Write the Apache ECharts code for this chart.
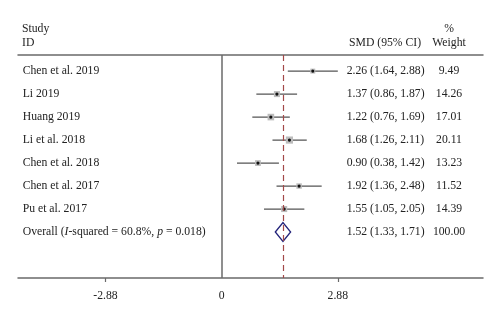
<!DOCTYPE html>
<html>
<head>
<meta charset="utf-8">
<script src="https://cdn.jsdelivr.net/npm/echarts@6/dist/echarts.min.js"></script>
<style>
  html, body { margin: 0; padding: 0; background: #fff; }
  #chart { width: 500px; height: 321px; }
</style>
</head>
<body>
<div id="chart"></div>
<script>
// Study-level results (standardised mean difference with 95% CI) and weights
var studies = ['Chen et al. 2019', 'Li 2019', 'Huang 2019', 'Li et al. 2018', 'Chen et al. 2018', 'Chen et al. 2017', 'Pu et al. 2017'];
var smd = [2.26, 1.37, 1.22, 1.68, 0.90, 1.92, 1.55];
var ciLow = [1.64, 0.86, 0.76, 1.26, 0.38, 1.36, 1.05];
var ciHigh = [2.88, 1.87, 1.69, 2.11, 1.42, 2.48, 2.05];
var weights = [9.49, 14.26, 17.01, 20.11, 13.23, 11.52, 14.39];

// Pooled estimate
var overallSmd = 1.52;
var overallLow = 1.33;
var overallHigh = 1.71;
var overallWeight = 100.00;
var iSquared = '60.8%';
var pValue = '0.018';

// Axis tick values
var xTicks = [-2.88, 0, 2.88];

var FONT = '"Liberation Serif", "DejaVu Serif", serif';
var TEXT = '#232323';
var FS = 11.7;

function fmt(v) { return v.toFixed(2); }

var rows = studies.map(function (s, i) {
  return [smd[i], i, ciLow[i], ciHigh[i], weights[i]];
});
var overallRow = studies.length;

var chart = echarts.init(document.getElementById('chart'), null, { renderer: 'canvas' });

chart.setOption({
  animation: false,
  backgroundColor: '#fff',
  grid: { left: 18, right: 17, top: 55, bottom: 43, containLabel: false },
  xAxis: [{
    type: 'value',
    position: 'bottom',
    min: -5.05,
    max: 6.48,
    axisLine: { show: true, onZero: false, lineStyle: { color: '#6a6a6a', width: 1.5 } },
    axisTick: { show: true, customValues: [-2.88, 2.88], length: 4, lineStyle: { color: '#6a6a6a', width: 1.2 } },
    axisLabel: {
      customValues: xTicks,
      formatter: function (v) { return String(v); },
      margin: 12,
      fontFamily: FONT, fontSize: FS, color: TEXT
    },
    splitLine: { show: false }
  }, {
    type: 'value',
    position: 'top',
    min: -5.05,
    max: 6.48,
    axisLine: { show: true, onZero: false, lineStyle: { color: '#6a6a6a', width: 1.5 } },
    axisTick: { show: false },
    axisLabel: { show: false },
    splitLine: { show: false }
  }],
  yAxis: {
    type: 'value',
    inverse: true,
    min: -0.7,
    max: 9,
    show: false
  },
  graphic: [
    { type: 'text', left: 22, top: 23, style: { text: 'Study', font: FS + 'px ' + FONT, fill: TEXT } },
    { type: 'text', left: 22, top: 37, style: { text: 'ID', font: FS + 'px ' + FONT, fill: TEXT } },
    { type: 'text', left: 349, top: 37, style: { text: 'SMD (95% CI)', font: FS + 'px ' + FONT, fill: TEXT } },
    { type: 'text', x: 449, y: 23, style: { text: '%', font: FS + 'px ' + FONT, fill: TEXT, align: 'center' } },
    { type: 'text', x: 449, y: 37, style: { text: 'Weight', font: FS + 'px ' + FONT, fill: TEXT, align: 'center' } }
  ],
  series: [
    {
      // reference lines: null effect and pooled estimate
      type: 'line',
      data: [],
      silent: true,
      markLine: {
        silent: true,
        symbol: 'none',
        label: { show: false },
        data: [
          { xAxis: 0, lineStyle: { color: '#6a6a6a', width: 1.5, type: 'solid' } },
          { xAxis: overallSmd, lineStyle: { color: '#a24848', width: 1.2, type: [6, 4] } }
        ]
      }
    },
    {
      // study estimates: CI whisker, weight-scaled box, point
      type: 'custom',
      data: rows,
      encode: { x: [0, 2, 3], y: 1 },
      renderItem: function (params, api) {
        var c = api.coord([api.value(0), api.value(1)]);
        var lo = api.coord([api.value(2), api.value(1)]);
        var hi = api.coord([api.value(3), api.value(1)]);
        var s = 1.6 * Math.sqrt(api.value(4));
        return {
          type: 'group',
          children: [
            { type: 'line', shape: { x1: lo[0], y1: c[1], x2: hi[0], y2: c[1] }, style: { stroke: '#555', lineWidth: 1.2 } },
            { type: 'rect', shape: { x: c[0] - s / 2, y: c[1] - s / 2, width: s, height: s }, style: { fill: '#bcbcbc' } },
            { type: 'circle', shape: { cx: c[0], cy: c[1], r: 1.6 }, style: { fill: '#111' } }
          ]
        };
      }
    },
    {
      // pooled estimate diamond
      type: 'custom',
      data: [[overallSmd, overallRow, overallLow, overallHigh]],
      encode: { x: [0, 2, 3], y: 1 },
      renderItem: function (params, api) {
        var c = api.coord([api.value(0), api.value(1)]);
        var lo = api.coord([api.value(2), api.value(1)]);
        var hi = api.coord([api.value(3), api.value(1)]);
        var h = 9.5;
        return {
          type: 'polygon',
          shape: { points: [[lo[0], c[1]], [c[0], c[1] - h], [hi[0], c[1]], [c[0], c[1] + h]] },
          style: { fill: 'rgba(255,255,255,0)', stroke: '#23237a', lineWidth: 1.3 }
        };
      }
    },
    {
      // text columns: study name, SMD (95% CI), weight
      type: 'custom',
      data: rows.concat([[overallSmd, overallRow, overallLow, overallHigh, overallWeight]]),
      encode: { y: 1 },
      renderItem: function (params, api) {
        var idx = params.dataIndex;
        var cs = params.coordSys;
        var y = api.coord([0, api.value(1)])[1];
        var isOverall = idx === studies.length;
        var font = FS + 'px ' + FONT;
        var nameEl;
        if (isOverall) {
          nameEl = {
            type: 'text', x: cs.x + 4.7, y: y,
            style: {
              text: 'Overall ({i|I}-squared = ' + iSquared + ', {i|p} = ' + pValue + ')',
              font: font, fill: TEXT, verticalAlign: 'middle',
              rich: { i: { fontStyle: 'italic', fontFamily: FONT, fontSize: FS, fill: TEXT } }
            }
          };
        } else {
          nameEl = { type: 'text', x: cs.x + 4.7, y: y, style: { text: studies[idx], font: font, fill: TEXT, verticalAlign: 'middle' } };
        }
        var ciText = fmt(api.value(0)) + ' (' + fmt(api.value(2)) + ', ' + fmt(api.value(3)) + ')';
        return {
          type: 'group',
          children: [
            nameEl,
            { type: 'text', x: 346.7, y: y, style: { text: ciText, font: font, fill: TEXT, verticalAlign: 'middle' } },
            { type: 'text', x: 449, y: y, style: { text: fmt(api.value(4)), font: font, fill: TEXT, align: 'center', verticalAlign: 'middle' } }
          ]
        };
      }
    }
  ]
});
</script>
</body>
</html>
